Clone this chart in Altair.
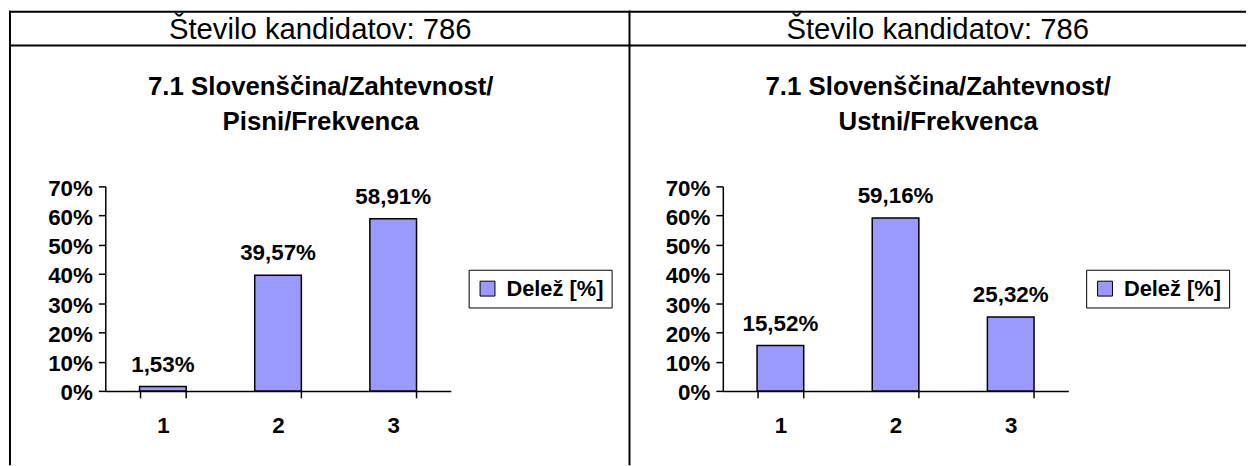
import altair as alt
import pandas as pd

# ---- data ----
categories = ["1", "2", "3"]
pisni_values = [1.53, 39.57, 58.91]
ustni_values = [15.52, 59.16, 25.32]
header_text = "Število kandidatov: 786"
panel_titles = [
    ["7.1 Slovenščina/Zahtevnost/", "Pisni/Frekvenca"],
    ["7.1 Slovenščina/Zahtevnost/", "Ustni/Frekvenca"],
]
series_name = "Delež [%]"
y_ticks = [0, 10, 20, 30, 40, 50, 60, 70]

FONT = "Liberation Sans"
W, H = 348, 206
BAR_COLOR = "#9999FF"


def fmt(v):
    return f"{v:.2f}".replace(".", ",") + "%"


def panel(values, title_lines, is_left):
    df = pd.DataFrame({
        "cat": categories,
        "val": values,
        "lab": [fmt(v) for v in values],
        "series": [series_name] * len(categories),
    })
    base = alt.Chart(df)
    x_enc = alt.X(
        "cat:N", sort=categories,
        scale=alt.Scale(paddingInner=0.595, paddingOuter=0.2975),
        axis=alt.Axis(title=None, labelAngle=0, tickBand="extent",
                      labelFont=FONT, labelFontSize=22.5, labelFontWeight="bold",
                      labelColor="black", tickSize=7, labelPadding=17,
                      domainColor="black", tickColor="black",
                      domainWidth=1.5, tickWidth=1.5),
    )
    y_enc = alt.Y(
        "val:Q",
        scale=alt.Scale(domain=[0, 70], nice=False),
        axis=alt.Axis(title=None, values=y_ticks, tickCount=8, labelOverlap=False,
                      labelExpr="datum.value + '%'",
                      grid=False, labelFont=FONT, labelFontSize=22.5,
                      labelFontWeight="bold", labelColor="black", tickSize=7,
                      labelPadding=6, labelOffset=2, domainColor="black",
                      tickColor="black", domainWidth=1.5, tickWidth=1.5),
    )
    legend = alt.Legend(
        title=None, orient="none", legendX=366, legendY=84, direction="vertical",
        symbolType="square", symbolSize=225, symbolStrokeColor="black",
        symbolStrokeWidth=1, symbolFillColor=BAR_COLOR,
        labelFont=FONT, labelFontSize=22, labelFontWeight="bold",
        labelColor="black", labelOffset=8, padding=8,
        strokeColor="black", fillColor="white",
    )
    bars = base.mark_bar(stroke="black", strokeWidth=1.5).encode(
        x=x_enc, y=y_enc,
        color=alt.Color("series:N", scale=alt.Scale(range=[BAR_COLOR]), legend=legend),
    )
    labels = base.mark_text(font=FONT, fontSize=22.5, fontWeight="bold", dy=-15,
                            baseline="alphabetic", color="black").encode(
        x=x_enc, y=y_enc, text="lab:N")

    one = pd.DataFrame({"t": [header_text]})
    header = alt.Chart(one).mark_text(font=FONT, fontSize=29.5, align="center",
                                      baseline="alphabetic", color="black").encode(
        x=alt.value(216.5), y=alt.value(-148), text="t:N")
    title = alt.Chart(one).mark_text(font=FONT, fontSize=26, fontWeight="bold",
                                     align="center", baseline="alphabetic",
                                     lineHeight=35, color="black").encode(
        x=alt.value(217), y=alt.value(-92), text=alt.value(title_lines))

    def hrule(y, x1, x2):
        return alt.Chart(one).mark_rule(color="black", strokeWidth=2).encode(
            x=alt.value(x1), x2=alt.value(x2), y=alt.value(y))

    def vrule(x, y1, y2):
        return alt.Chart(one).mark_rule(color="black", strokeWidth=2).encode(
            x=alt.value(x), y=alt.value(y1), y2=alt.value(y2))

    if is_left:
        lines = [hrule(-176, -97, 529), hrule(-142, -97, 529),
                 vrule(-96, -177, 281), vrule(528, -177, 281)]
    else:
        lines = [hrule(-176, -95, 527), hrule(-142, -95, 527)]

    return alt.layer(bars, labels, header, title, *lines).properties(width=W, height=H)


left = panel(pisni_values, panel_titles[0], True)
right = panel(ustni_values, panel_titles[1], False)

chart = (
    alt.hconcat(left, right, spacing=274, bounds="flush")
    .resolve_scale(color="independent")
    .resolve_legend(color="independent")
    .properties(padding=0)
    .configure_view(stroke=None)
)

chart.save("out.html", embed_options={"renderer": "svg", "actions": False})
